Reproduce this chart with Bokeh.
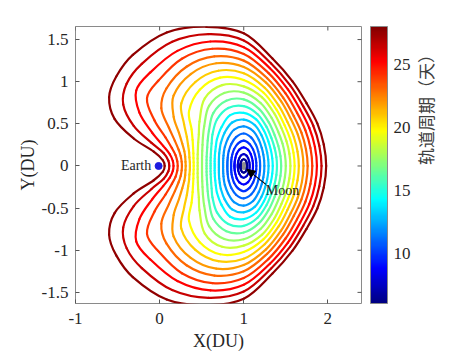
import math
from bokeh.plotting import figure
from bokeh.models import (ColumnDataSource, LinearColorMapper, ColorBar, FixedTicker,
                          Label, Arrow, NormalHead, LinearAxis, Range1d)
from bokeh.embed import file_html
from bokeh.resources import INLINE

# ---------------- data ----------------
x_ticks = [-1, 0, 1, 2]
x_tick_labels = ["-1", "0", "1", "2"]
y_ticks = [-1.5, -1, -0.5, 0, 0.5, 1, 1.5]
y_tick_labels = ["-1.5", "-1", "-0.5", "0", "0.5", "1", "1.5"]
cb_ticks = [10, 15, 20, 25]
cb_low, cb_high = 6, 28
x_lim = (-1.0, 2.4)
y_lim = (-1.632, 1.655)

earth_xy = (-0.012, 0.0)
moon_xy = (1.0, 0.0)

# orbital period (days) of each orbit, inner -> outer
periods = [6.5, 7.6, 8.7, 9.8, 10.9, 12.0, 13.1, 14.2, 15.3, 16.4,
           17.5, 18.6, 19.7, 20.8, 21.9, 23.0, 24.1, 25.2, 26.4, 27.6]

# directions (deg) seen from the Moon, counter-clockwise from +X (upper half; orbits mirror in y)
ray_deg = [0, 15, 30, 45, 60, 75, 90, 105, 120, 135, 145, 153, 160, 166, 171, 176, 180]

# distance from the Moon (DU) of each orbit along each ray
orbit_01 = [0.040, 0.041, 0.044, 0.051, 0.061, 0.073, 0.080, 0.073, 0.061, 0.051, 0.046, 0.044, 0.042, 0.041, 0.040, 0.040, 0.040]
orbit_02 = [0.070, 0.072, 0.078, 0.088, 0.105, 0.127, 0.140, 0.128, 0.106, 0.089, 0.081, 0.076, 0.073, 0.072, 0.071, 0.070, 0.070]
orbit_03 = [0.110, 0.113, 0.122, 0.138, 0.165, 0.199, 0.220, 0.201, 0.168, 0.139, 0.127, 0.120, 0.115, 0.113, 0.111, 0.110, 0.110]
orbit_04 = [0.150, 0.154, 0.166, 0.188, 0.224, 0.269, 0.300, 0.273, 0.230, 0.192, 0.175, 0.165, 0.158, 0.154, 0.152, 0.150, 0.150]
orbit_05 = [0.195, 0.200, 0.215, 0.244, 0.290, 0.348, 0.385, 0.354, 0.298, 0.251, 0.228, 0.214, 0.205, 0.200, 0.197, 0.195, 0.195]
orbit_06 = [0.245, 0.251, 0.269, 0.303, 0.358, 0.430, 0.470, 0.445, 0.375, 0.318, 0.288, 0.270, 0.259, 0.252, 0.248, 0.246, 0.245]
orbit_07 = [0.295, 0.301, 0.321, 0.359, 0.422, 0.503, 0.550, 0.534, 0.455, 0.385, 0.348, 0.327, 0.313, 0.304, 0.299, 0.296, 0.295]
orbit_08 = [0.345, 0.351, 0.373, 0.414, 0.482, 0.572, 0.630, 0.624, 0.530, 0.450, 0.405, 0.380, 0.365, 0.355, 0.350, 0.346, 0.345]
orbit_09 = [0.395, 0.402, 0.424, 0.466, 0.539, 0.636, 0.710, 0.712, 0.636, 0.526, 0.466, 0.435, 0.416, 0.405, 0.399, 0.395, 0.394]
orbit_10 = [0.445, 0.452, 0.475, 0.519, 0.597, 0.702, 0.790, 0.801, 0.724, 0.586, 0.523, 0.487, 0.466, 0.454, 0.447, 0.443, 0.442]
orbit_11 = [0.500, 0.507, 0.532, 0.578, 0.661, 0.774, 0.870, 0.897, 0.824, 0.665, 0.592, 0.550, 0.525, 0.510, 0.502, 0.497, 0.496]
orbit_12 = [0.555, 0.562, 0.587, 0.635, 0.723, 0.843, 0.945, 0.993, 0.926, 0.744, 0.652, 0.608, 0.580, 0.564, 0.555, 0.549, 0.548]
orbit_13 = [0.605, 0.612, 0.638, 0.686, 0.776, 0.902, 1.020, 1.085, 1.045, 0.920, 0.757, 0.682, 0.641, 0.617, 0.605, 0.597, 0.595]
orbit_14 = [0.655, 0.662, 0.688, 0.736, 0.829, 0.961, 1.100, 1.170, 1.150, 1.050, 0.866, 0.759, 0.703, 0.669, 0.654, 0.642, 0.640]
orbit_15 = [0.710, 0.717, 0.743, 0.791, 0.887, 1.024, 1.175, 1.262, 1.260, 1.180, 1.017, 0.864, 0.778, 0.728, 0.705, 0.694, 0.690]
orbit_16 = [0.760, 0.766, 0.792, 0.840, 0.937, 1.078, 1.250, 1.346, 1.360, 1.300, 1.196, 0.998, 0.871, 0.798, 0.759, 0.740, 0.735]
orbit_17 = [0.815, 0.821, 0.847, 0.895, 0.994, 1.141, 1.330, 1.440, 1.470, 1.433, 1.404, 1.190, 0.989, 0.881, 0.821, 0.792, 0.785]
orbit_18 = [0.870, 0.876, 0.901, 0.949, 1.050, 1.201, 1.410, 1.529, 1.577, 1.570, 1.560, 1.392, 1.159, 0.987, 0.890, 0.845, 0.835]
orbit_19 = [0.925, 0.930, 0.955, 1.001, 1.104, 1.259, 1.490, 1.620, 1.701, 1.714, 1.700, 1.608, 1.392, 1.130, 0.963, 0.898, 0.885]
orbit_20 = [0.980, 0.985, 1.010, 1.055, 1.160, 1.320, 1.575, 1.710, 1.830, 1.865, 1.850, 1.796, 1.634, 1.348, 1.083, 0.963, 0.940]

orbits = [orbit_01, orbit_02, orbit_03, orbit_04, orbit_05, orbit_06, orbit_07,
          orbit_08, orbit_09, orbit_10, orbit_11, orbit_12, orbit_13, orbit_14,
          orbit_15, orbit_16, orbit_17, orbit_18, orbit_19, orbit_20]

# ---------------- jet colormap (MATLAB style) ----------------
def _clip(v):
    return min(max(v, 0.0), 1.0)

JET = []
for k in range(256):
    t = k / 255.0
    r = _clip(1.5 - abs(4 * t - 3))
    g = _clip(1.5 - abs(4 * t - 2))
    b = _clip(1.5 - abs(4 * t - 1))
    JET.append("#%02x%02x%02x" % (round(r * 255), round(g * 255), round(b * 255)))

# ---------------- orbit outlines as smooth Bezier pieces through the read points ----------------
seg = {k: [] for k in ("x0", "y0", "x1", "y1", "cx0", "cy0", "cx1", "cy1", "period")}
for rr, per in zip(orbits, periods):
    ux = [moon_xy[0] + r * math.cos(math.radians(a)) for r, a in zip(rr, ray_deg)]
    uy = [moon_xy[1] + r * math.sin(math.radians(a)) for r, a in zip(rr, ray_deg)]
    px = ux + ux[-2:0:-1]                       # upper half, then mirrored lower half
    py = uy + [-v for v in uy[-2:0:-1]]
    n = len(px)
    for i in range(n):
        a0, a1, a2, a3 = (i - 1) % n, i, (i + 1) % n, (i + 2) % n
        dx, dy = px[a2] - px[a1], py[a2] - py[a1]
        d = math.hypot(dx, dy)
        t1x, t1y = px[a2] - px[a0], py[a2] - py[a0]
        t2x, t2y = px[a3] - px[a1], py[a3] - py[a1]
        l1 = math.hypot(t1x, t1y) or 1.0
        l2 = math.hypot(t2x, t2y) or 1.0
        seg["x0"].append(px[a1]); seg["y0"].append(py[a1])
        seg["x1"].append(px[a2]); seg["y1"].append(py[a2])
        seg["cx0"].append(px[a1] + t1x / l1 * d / 3); seg["cy0"].append(py[a1] + t1y / l1 * d / 3)
        seg["cx1"].append(px[a2] - t2x / l2 * d / 3); seg["cy1"].append(py[a2] - t2y / l2 * d / 3)
        seg["period"].append(per)

src = ColumnDataSource(seg)
mapper = LinearColorMapper(palette=JET, low=cb_low, high=cb_high)

SERIF = "Liberation Serif"
TXT = "#262626"
BOX = "#8a8a8a"
TICK = "#555555"

p = figure(width=470, height=353, x_range=Range1d(*x_lim), y_range=Range1d(*y_lim),
           output_backend="svg", toolbar_location=None,
           min_border_left=75, min_border_right=109, min_border_top=26, min_border_bottom=50)
p.background_fill_color = "white"
p.border_fill_color = "white"
p.grid.visible = False
p.outline_line_color = BOX
p.outline_line_width = 1

# Moon first, so that the innermost orbit rings are drawn over it
p.scatter([moon_xy[0]], [moon_xy[1]], size=7, color="#8f8f8f")

p.bezier(x0="x0", y0="y0", x1="x1", y1="y1", cx0="cx0", cy0="cy0", cx1="cx1", cy1="cy1",
         source=src, line_color={'field': 'period', 'transform': mapper},
         line_width=2.2, line_cap="round")

p.scatter([earth_xy[0]], [earth_xy[1]], size=7, color="#1c1ce0")

# mirrored inward ticks on the top and right edges (half of each dash is clipped by the frame)
p.scatter([x_lim[1]] * len(y_ticks), y_ticks, marker="dash", size=8, line_color=TICK, line_width=1)
p.scatter(x_ticks, [y_lim[1]] * len(x_ticks), marker="dash", angle=math.pi / 2, size=8,
          line_color=TICK, line_width=1)

p.add_layout(Arrow(end=NormalHead(size=8, fill_color="black", line_color="black"),
                   x_start=1.263, y_start=-0.218, x_end=1.038, y_end=-0.040,
                   line_color="black", line_width=1.1))
p.add_layout(Label(x=-0.10, y=0.01, text="Earth", text_align="right", text_baseline="middle",
                   text_font=SERIF, text_font_size="14px", text_color=TXT))
p.add_layout(Label(x=1.263, y=-0.29, text="Moon", text_align="left", text_baseline="middle",
                   text_font=SERIF, text_font_size="14px", text_color=TXT))

xa = p.xaxis[0]
ya = p.yaxis[0]
for ax, ticks, labels, title in ((xa, x_ticks, x_tick_labels, "X(DU)"),
                                 (ya, y_ticks, y_tick_labels, "Y(DU)")):
    ax.ticker = FixedTicker(ticks=ticks)
    ax.major_label_overrides = {t: s for t, s in zip(ticks, labels)}
    ax.axis_line_color = None
    ax.major_tick_in = 4
    ax.major_tick_out = 0
    ax.major_tick_line_color = TICK
    ax.minor_tick_line_color = None
    ax.major_label_text_font = SERIF
    ax.major_label_text_font_size = "17px"
    ax.major_label_text_color = TXT
    ax.axis_label = title
    ax.axis_label_text_font = SERIF
    ax.axis_label_text_font_style = "normal"
    ax.axis_label_text_font_size = "18px"
    ax.axis_label_text_color = TXT
xa.major_label_standoff = 9
xa.axis_label_standoff = 4
ya.major_label_standoff = 7
ya.axis_label_standoff = 1

cb = ColorBar(color_mapper=mapper, ticker=FixedTicker(ticks=cb_ticks), width=17,
              padding=0, margin=0, label_standoff=6, location=(9, 0),
              major_label_text_font=SERIF, major_label_text_font_size="17px",
              major_label_text_color=TXT, major_tick_line_color=None,
              bar_line_color=BOX, border_line_color=None, background_fill_color=None)
p.add_layout(cb, "right")

# colour-bar title, on an empty axis outside the bar
cb_title_ax = LinearAxis(ticker=FixedTicker(ticks=[]), axis_line_color=None,
                         major_tick_line_color=None, minor_tick_line_color=None,
                         major_tick_in=0, major_tick_out=0, major_label_text_color=None,
                         major_label_standoff=0,
                         axis_label="轨道周期（天）", axis_label_standoff=12,
                         axis_label_text_font="Noto Sans CJK SC", axis_label_text_font_style="normal",
                         axis_label_text_font_size="17px", axis_label_text_color="#404040")
try:
    cb_title_ax.axis_label_orientation = math.pi / 2
except Exception:
    pass
p.add_layout(cb_title_ax, "right")

open("out.html", "w").write(file_html(p, INLINE))
